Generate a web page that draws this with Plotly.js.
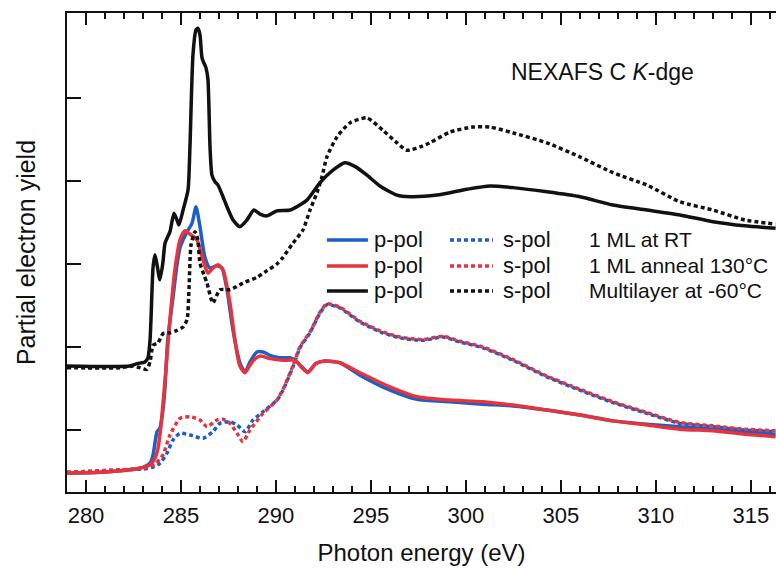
<!DOCTYPE html>
<html>
<head>
<meta charset="utf-8">
<script src="https://cdn.plot.ly/plotly-3.0.1.min.js"></script>
<style>html,body{margin:0;padding:0;background:#fff}#chart{width:776px;height:569px}</style>
</head>
<body>
<div id="chart"></div>
<script>
// ---- Data (photon energy in eV, partial electron yield in arbitrary units) ----
const xMlP = [279.0,282.3,282.7,283.1,283.26,283.37,283.42,283.53,283.63,283.74,283.89,284.05,284.16,284.42,284.63,284.79,284.89,285.11,285.37,285.47,285.63,285.79,285.89,286.0,286.11,286.32,286.42,286.53,286.63,286.79,286.95,287.21,287.42,287.74,288.1,288.47,288.84,289.16,289.53,290.05,290.74,291.63,292.32,293.0,293.63,294.2,294.79,295.47,296.37,297.05,298.47,300.05,301.26,302.47,304.26,306.0,307.74,309.53,311.26,313.0,314.68,316.3];
const yMlP = [1.77,1.77,1.80,1.82,1.87,2.08,2.33,2.96,3.11,2.99,2.81,3.02,3.25,3.39,3.61,3.53,3.47,3.65,3.89,4.40,5.52,5.82,5.84,5.76,5.48,5.36,5.22,4.40,4.07,3.99,3.95,3.81,3.69,3.53,3.45,3.53,3.65,3.60,3.58,3.64,3.65,3.77,3.98,4.13,4.22,4.17,4.07,3.94,3.83,3.81,3.83,3.90,3.94,3.92,3.87,3.81,3.71,3.65,3.59,3.51,3.46,3.43];

const xMlS = [279.0,281.8,282.5,282.84,283.2,283.37,283.53,283.79,284.05,284.42,284.79,285.1,285.32,285.42,285.53,285.74,285.89,286.0,286.21,286.37,286.68,287.05,287.58,288.26,289.0,289.53,290.05,290.37,290.89,291.42,291.79,292.16,292.42,292.68,293.21,293.89,294.79,295.63,296.37,296.89,297.58,298.1,299.16,300.37,301.26,302.47,304.26,306.0,307.74,309.53,311.26,313.0,314.68,316.3];
const yMlS = [1.75,1.75,1.77,1.75,1.73,1.82,2.02,2.05,2.16,2.17,2.20,2.24,2.33,2.69,3.23,3.39,3.29,3.01,2.87,2.77,2.53,2.69,2.69,2.77,2.84,2.92,3.00,3.08,3.25,3.41,3.65,3.86,4.05,4.29,4.53,4.70,4.76,4.61,4.46,4.37,4.41,4.46,4.59,4.65,4.65,4.58,4.46,4.29,4.10,3.95,3.75,3.65,3.53,3.48];

const xRtP = [279.0,280.74,282.3,283.0,283.37,283.53,283.74,283.89,284.05,284.16,284.3,284.58,284.79,284.95,285.32,285.58,285.79,286.0,286.26,286.53,286.89,287.16,287.42,287.74,288.1,288.37,288.63,289.0,289.32,289.68,290.2,290.74,291.0,291.37,291.68,292.1,292.58,293.37,294.42,296.0,297.42,299.16,300.89,302.47,304.26,306.0,307.74,309.53,311.26,313.0,314.68,316.3];
const yRtP = [0.48,0.49,0.52,0.55,0.60,0.70,0.98,1.02,1.24,1.52,2.08,2.60,2.99,3.20,3.39,3.49,3.69,3.45,3.08,2.95,2.98,2.95,2.69,2.20,1.81,1.70,1.82,1.94,1.94,1.90,1.87,1.87,1.84,1.76,1.70,1.80,1.83,1.81,1.66,1.48,1.37,1.34,1.31,1.29,1.24,1.18,1.11,1.07,1.04,1.01,0.98,0.95];

const xAnP = [279.0,280.74,282.3,283.0,283.37,283.63,283.79,283.95,284.16,284.42,284.68,284.95,285.21,285.47,285.84,286.16,286.42,286.68,286.95,287.21,287.58,287.84,288.1,288.37,288.74,289.16,289.68,290.37,291.0,291.37,291.68,292.1,292.58,293.37,294.42,296.0,297.42,299.16,300.89,302.47,304.26,306.0,307.74,309.53,311.26,313.0,314.68,316.3];
const yAnP = [0.48,0.49,0.52,0.55,0.58,0.66,0.78,1.06,1.60,2.33,2.93,3.29,3.40,3.36,3.29,3.05,2.89,2.95,2.99,2.93,2.53,2.08,1.77,1.69,1.82,1.89,1.86,1.84,1.84,1.75,1.69,1.80,1.83,1.81,1.69,1.52,1.40,1.36,1.34,1.30,1.24,1.18,1.11,1.06,1.01,0.99,0.95,0.92];

const xRtS = [279.0,281.8,283.0,283.47,283.9,284.26,284.58,284.95,285.47,286.16,286.68,287.05,287.58,287.95,288.37,288.79,289.32,290.05,290.37,290.89,291.26,291.79,292.32,292.68,293.37,294.42,295.63,296.53,297.74,298.79,299.68,300.89,302.47,304.26,306.0,307.74,309.53,311.26,313.0,314.68,316.3];
const yRtS = [0.49,0.52,0.53,0.55,0.60,0.72,0.88,0.96,0.94,0.90,0.98,1.08,1.10,1.06,0.98,1.12,1.22,1.36,1.48,1.76,1.99,2.17,2.41,2.51,2.47,2.30,2.17,2.11,2.08,2.12,2.06,1.99,1.84,1.64,1.48,1.33,1.20,1.08,1.04,1.00,0.98];

const xAnS = [279.0,281.8,283.0,283.63,284.05,284.42,284.95,285.47,286.0,286.37,286.89,287.21,287.58,287.95,288.26,288.63,289.32,290.05,290.37,290.89,291.26,291.79,292.32,292.68,293.37,294.42,295.63,296.53,297.74,298.79,299.68,300.89,302.47,304.26,306.0,307.74,309.53,311.26,313.0,314.68,316.3];
const yAnS = [0.49,0.52,0.54,0.59,0.70,0.94,1.14,1.16,1.12,1.04,1.12,1.13,1.08,0.96,0.86,1.00,1.20,1.36,1.49,1.77,2.00,2.18,2.42,2.52,2.48,2.31,2.18,2.12,2.09,2.13,2.07,2.00,1.85,1.65,1.49,1.34,1.21,1.09,1.05,1.01,0.99];

const xTicks = [280,285,290,295,300,305,310,315];
const yTicks = [1,2,3,4,5];

const legendPol = ["p-pol","s-pol"];
const legendSamples = ["1 ML at RT","1 ML anneal 130°C","Multilayer at -60°C"];
const sampleColors = ["#1d5fc4","#e8333c","#111111"];

// ---- Styling ----
const FONT = '"Liberation Sans", Arial, Helvetica, sans-serif';
const DOT = "4px,3px";
const LW = 3.5;

function tr(x, y, color, dash) {
  return {x: x, y: y, type: 'scatter', mode: 'lines',
          line: {color: color, width: LW, dash: dash || 'solid', shape: 'spline', smoothing: 0.6},
          hoverinfo: 'skip', showlegend: false};
}

const data = [
  tr(xRtP, yRtP, sampleColors[0]),
  tr(xRtS, yRtS, sampleColors[0], DOT),
  tr(xAnP, yAnP, sampleColors[1]),
  tr(xAnS, yAnS, sampleColors[1], DOT),
  tr(xMlP, yMlP, sampleColors[2]),
  tr(xMlS, yMlS, sampleColors[2], DOT)
];

// legend built from shapes + annotations (three rows, three columns)
const legRowY = [3.29, 2.976, 2.675];
const legSolidX = [292.68, 294.84];
const legDotX = [299.16, 301.42];
const legTextX = [295.05, 301.85, 306.37];

const shapes = [];
const annotations = [];
legendSamples.forEach(function(label, i) {
  const y = legRowY[i];
  shapes.push({type: 'line', xref: 'x', yref: 'y', x0: legSolidX[0], x1: legSolidX[1], y0: y, y1: y,
               line: {color: sampleColors[i], width: LW}});
  shapes.push({type: 'line', xref: 'x', yref: 'y', x0: legDotX[0], x1: legDotX[1], y0: y, y1: y,
               line: {color: sampleColors[i], width: LW, dash: DOT}});
  [legendPol[0], legendPol[1], label].forEach(function(t, k) {
    annotations.push({xref: 'x', yref: 'y', x: legTextX[k], y: y, text: t, showarrow: false,
                      xanchor: 'left', yanchor: 'middle',
                      font: {family: FONT, size: k < 2 ? 22 : 21, color: '#111'}});
  });
});
annotations.push({xref: 'x', yref: 'y', x: 307.2, y: 5.313, text: 'NEXAFS C <i>K</i>-dge', showarrow: false,
                  xanchor: 'center', yanchor: 'middle', font: {family: FONT, size: 23, color: '#111'}});

const layout = {
  width: 776, height: 569,
  margin: {l: 67, r: 0, t: 13, b: 77},
  paper_bgcolor: '#fff', plot_bgcolor: '#fff',
  font: {family: FONT, color: '#111'},
  showlegend: false,
  xaxis: {
    range: [279, 316.32], showgrid: false, zeroline: false,
    showline: true, linecolor: '#111', linewidth: 2, mirror: 'ticks',
    tickmode: 'array', tickvals: xTicks, ticks: 'inside', ticklen: 12, tickwidth: 2, tickcolor: '#111',
    minor: {dtick: 1, tick0: 280, ticks: 'inside', ticklen: 6, tickwidth: 2, tickcolor: '#111', showgrid: false},
    tickfont: {family: FONT, size: 22, color: '#111'},
    ticklabelstandoff: 3,
    title: {text: 'Photon energy (eV)', font: {family: FONT, size: 24, color: '#111'}, standoff: 17}
  },
  yaxis: {
    range: [0.253, 6.024], showgrid: false, zeroline: false,
    showline: true, linecolor: '#111', linewidth: 2, mirror: false,
    tickmode: 'array', tickvals: yTicks, ticks: 'inside', ticklen: 14, tickwidth: 2, tickcolor: '#111',
    showticklabels: false,
    title: {text: 'Partial electron yield', font: {family: FONT, size: 25, color: '#111'}, standoff: 22}
  },
  shapes: shapes,
  annotations: annotations
};

Plotly.newPlot('chart', data, layout, {displayModeBar: false, staticPlot: true});
</script>
</body>
</html>
